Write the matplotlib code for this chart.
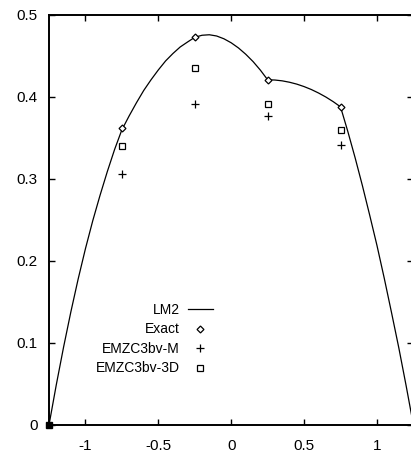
import matplotlib
matplotlib.use("Agg")
import matplotlib.pyplot as plt

# LM2 curve
lm2_x = [-1.25, -1.20, -1.15, -1.10, -1.05, -1.00, -0.95, -0.90, -0.85, -0.80,
         -0.75, -0.70, -0.65, -0.60, -0.55, -0.50, -0.45, -0.40, -0.35, -0.30,
         -0.25, -0.20, -0.15, -0.10, -0.05, 0.00, 0.05, 0.10, 0.15, 0.20,
         0.25, 0.30, 0.35, 0.40, 0.45, 0.50, 0.55, 0.60, 0.65, 0.70,
         0.75, 0.80, 0.85, 0.90, 0.95, 1.00, 1.05, 1.10, 1.15, 1.20, 1.25]
lm2_y = [0.0, 0.049, 0.095, 0.138, 0.178, 0.215, 0.249, 0.280, 0.309, 0.336,
         0.360, 0.377, 0.393, 0.408, 0.421, 0.433, 0.444, 0.453, 0.461, 0.467,
         0.4728, 0.4753, 0.4759, 0.4744, 0.4710, 0.4661, 0.4598, 0.4521, 0.4432, 0.4328,
         0.421, 0.4207, 0.4197, 0.4180, 0.4157, 0.4127, 0.4091, 0.4048, 0.3999, 0.3943,
         0.388, 0.358, 0.326, 0.292, 0.256, 0.219, 0.179, 0.137, 0.094, 0.048, 0.0]

pts_x = [-0.75, -0.25, 0.25, 0.75]
exact = [0.362, 0.473, 0.421, 0.388]
emzc_m = [0.306, 0.392, 0.377, 0.341]
emzc_3d = [0.340, 0.435, 0.391, 0.360]

plt.rcParams['font.family'] = ['Liberation Sans', 'DejaVu Sans']

fig = plt.figure(figsize=(4.11, 4.58), dpi=100)
ax = fig.add_axes([49 / 411, 33 / 458, 364.4 / 411, 410 / 458])

ax.plot(lm2_x, lm2_y, color="black", lw=0.9, label="LM2")
ax.plot(pts_x, exact, ls="none", marker="D", ms=3.5, mfc="white", mec="black", mew=0.9, label="Exact")
ax.plot(pts_x, emzc_m, ls="none", marker="+", ms=6, mec="black", mew=0.9, label="EMZC3bv-M")
ax.plot(pts_x, emzc_3d, ls="none", marker="s", ms=4, mfc="white", mec="black", mew=0.9, label="EMZC3bv-3D")
ax.plot(lm2_x[:1], lm2_y[:1], ls="none", marker="s", ms=4, color="black", clip_on=False)

ax.set_xlim(-1.25, 1.25)
ax.set_ylim(0, 0.5)
ax.set_xticks([-1, -0.5, 0, 0.5, 1])
ax.set_xticklabels(["-1", "-0.5", "0", "0.5", "1"])
ax.set_yticks([0, 0.1, 0.2, 0.3, 0.4, 0.5])
ax.set_yticklabels(["0", "0.1", "0.2", "0.3", "0.4", "0.5"])
ax.tick_params(direction="in", length=4, width=1, top=True, right=True, labelsize=11)
ax.tick_params(axis="x", pad=10)
ax.tick_params(axis="y", pad=8)
for s in ax.spines.values():
    s.set_linewidth(1.4)

ax.legend(loc="upper right", bbox_to_anchor=(0.45, 0.298), markerfirst=False,
          frameon=False, fontsize=10, handlelength=1.8, handletextpad=0.6,
          labelspacing=0.4, borderaxespad=0, borderpad=0)

fig.savefig("out.png", dpi=100)
